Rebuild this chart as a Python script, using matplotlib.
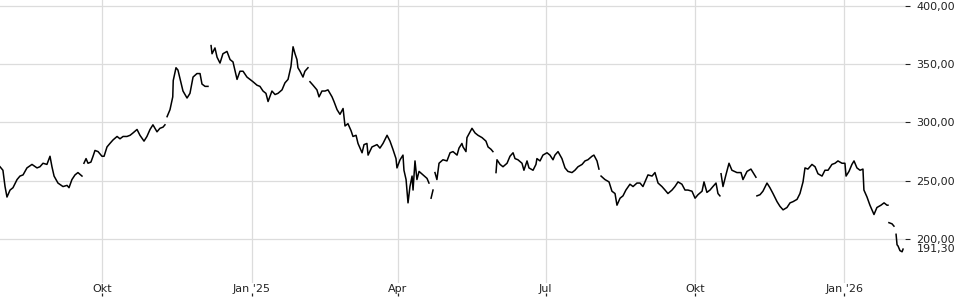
import numpy as np
import pandas as pd
import matplotlib
matplotlib.use("Agg")
import matplotlib.pyplot as plt
import matplotlib.dates as mdates
from matplotlib.ticker import FuncFormatter

nan = np.nan

# price readings, day offsets counted from the first session; nan = break in the line
start = pd.Timestamp("2024-07-30")
days = [
    0.0, 1.8, 3.1, 4.3, 6.2, 8.0, 10.5, 12.3, 14.2, 16.6, 19.7, 22.8, 24.6, 26.5, 28.9, 30.8, 32.0, 33.3, 35.7, 38.8, 41.3, 42.5, 44.3, 46.2, 48.0, 50.5,
    51.1,
    51.7, 53.0, 54.2, 56.0, 57.3, 58.5, 60.4, 62.8, 64.1, 65.9, 67.7, 69.6, 72.1, 73.9, 75.8, 78.2, 80.1, 81.9, 84.4, 86.2, 88.7, 90.5, 92.4, 94.2, 96.7, 98.5, 100.4, 101.6,
    102.2,
    102.9, 104.7, 106.4, 106.7, 108.4, 109.6, 111.5, 112.7, 115.2, 117.0, 118.9, 121.3, 123.2, 124.4, 126.3, 128.1,
    129.0,
    130.0, 130.6, 132.4, 133.7, 135.5, 137.3, 139.8, 141.7, 143.5, 146.0, 147.8, 149.7, 152.1, 154.0, 155.8, 158.3, 160.1, 162.0, 163.8, 165.1, 167.5, 169.4, 171.2, 173.7, 175.5, 177.4, 179.2, 180.5, 181.7, 182.9, 183.5, 184.8, 186.6, 187.8, 189.7,
    190.3,
    190.9, 192.8, 195.2, 196.5, 198.3, 200.2, 202.0, 204.5, 205.7, 207.6, 209.4, 211.3, 212.5, 214.3, 216.2, 217.4, 219.3, 220.5, 223.0, 224.2, 226.0, 226.7, 229.1, 232.2, 234.0, 235.9, 238.4, 240.2, 242.0, 243.9, 244.5, 246.4, 248.2, 248.8, 250.1, 251.3, 252.5, 253.8, 254.4, 255.6, 256.8, 258.1, 260.5, 263.0, 264.2,
    264.8,
    265.5, 266.7,
    267.3,
    267.9, 269.1, 270.4, 272.8, 275.3, 277.2, 279.0, 281.5, 282.7, 284.5, 285.2, 287.0, 287.6, 289.5, 290.7, 292.6, 294.4, 296.9, 299.3, 300.6, 302.4, 303.6,
    304.6,
    305.5, 306.1, 308.0, 309.8, 312.3, 314.1, 316.0, 317.2, 319.0, 321.5, 322.7, 324.6, 325.8, 328.3, 330.1, 330.7, 332.6, 334.4, 336.9, 338.7, 340.6, 341.8, 343.7, 346.1, 348.0, 349.8, 352.3, 354.1, 356.0, 358.5, 360.3, 362.1, 364.6, 365.8, 367.7, 368.9,
    369.5,
    370.2, 372.6, 375.1, 376.9, 378.8, 380.0, 381.9, 383.7, 385.5, 388.0, 389.9, 392.3, 394.2, 396.0, 397.9, 399.1, 401.6, 403.4, 405.3, 407.7, 409.6, 411.4, 413.9, 415.7, 417.6, 420.0, 421.9, 423.7, 426.2, 428.1, 429.9, 432.4, 433.6, 435.4, 437.3, 439.1, 441.0, 442.2, 443.4,
    443.8,
    444.1, 445.3, 447.1, 449.0, 450.8, 453.9, 456.4, 457.6, 460.1, 462.5, 463.8, 465.6,
    465.9,
    466.2, 468.1, 469.9, 472.4, 474.2, 476.1, 478.6, 480.4, 482.3, 484.7, 486.6, 488.4, 490.9, 492.7, 494.6, 495.8, 497.6, 500.1, 502.0, 503.8, 506.3, 508.1, 510.0, 512.4, 514.3, 516.1, 518.6, 520.4, 521.1, 522.9, 524.7, 526.0, 527.8, 529.7, 531.5, 532.1, 534.0, 535.8, 538.3, 540.1, 542.6, 544.5, 546.3, 546.9,
    547.2,
    547.5, 549.4, 550.6,
    551.2,
    551.9, 552.5, 553.1, 554.3, 555.6, 556.2,
]
prices = [
    262, 259, 245, 236, 242, 244, 251, 254, 255, 261, 264, 261, 262, 265, 264, 271, 262, 254, 248, 245, 246, 244, 251, 255, 257, 254,
    nan,
    265, 269, 265, 266, 271, 276, 275, 271, 271, 279, 282, 285, 288, 286, 288, 288, 289, 291, 294, 289, 284, 288, 294, 298, 292, 295, 296, 298,
    nan,
    305, 311, 322, 336, 347, 345, 334, 327, 321, 325, 339, 342, 342, 333, 331, 331,
    nan,
    366, 359, 364, 356, 351, 359, 361, 354, 352, 337, 344, 344, 339, 337, 335, 332, 331, 327, 325, 318, 327, 324, 325, 328, 334, 337, 348, 365, 359, 354, 347, 344, 339, 344, 347,
    nan,
    335, 332, 328, 322, 327, 327, 328, 322, 318, 311, 307, 312, 297, 299, 293, 288, 289, 282, 274, 281, 282, 272, 279, 281, 278, 282, 289, 284, 277, 269, 261, 268, 272, 259, 251, 231, 245, 254, 242, 267, 251, 258, 255, 252, 248,
    nan,
    235, 242,
    nan,
    257, 251, 265, 268, 267, 274, 275, 272, 278, 282, 279, 275, 287, 292, 295, 291, 289, 287, 284, 279, 277, 275,
    nan,
    257, 268, 264, 262, 265, 271, 274, 269, 268, 265, 259, 267, 261, 259, 264, 269, 267, 272, 274, 272, 268, 272, 275, 269, 261, 258, 257, 259, 262, 264, 267, 268, 271, 272, 267, 260,
    nan,
    254, 251, 249, 241, 239, 229, 235, 237, 242, 247, 245, 248, 248, 245, 251, 255, 254, 257, 248, 245, 242, 239, 242, 245, 249, 247, 242, 242, 241, 235, 238, 241, 249, 240, 242, 245, 248, 239, 237,
    nan,
    256, 245, 255, 265, 259, 257, 257, 251, 258, 260, 257, 253,
    nan,
    237, 238, 241, 248, 244, 239, 232, 228, 225, 227, 231, 232, 234, 239, 249, 261, 260, 264, 262, 256, 254, 259, 259, 264, 265, 267, 265, 265, 254, 258, 264, 267, 261, 259, 260, 242, 236, 229, 221, 227, 229, 231, 229, 229,
    nan,
    214, 213, 211,
    nan,
    204, 195, 194, 190, 189, 191.3,
]
last_price = 191.30

tick_dates = ["2024-10-01", "2025-01-01", "2025-04-01", "2025-07-01", "2025-10-01", "2026-01-01"]
tick_labels = ["Okt", "Jan '25", "Apr", "Jul", "Okt", "Jan '26"]
y_ticks = [200, 250, 300, 350, 400]

assert len(days) == len(prices), (len(days), len(prices))
dates = start + pd.to_timedelta(days, unit="D")

fig = plt.figure(figsize=(9.6, 3), dpi=100)
ax = fig.add_axes([0, 1 - 283 / 300, 905 / 960, 283 / 300])

ax.plot(dates, prices, color="black", lw=1.1)

ax.set_xlim(start, start + pd.Timedelta(days=557.4))
ax.set_ylim(162.2, 405.15)

txt = "#222222"
ax.yaxis.tick_right()
ax.set_yticks(y_ticks)
ax.yaxis.set_major_formatter(FuncFormatter(lambda v, _: f"{v:.2f}".replace(".", ",")))
ax.tick_params(axis="y", length=3.6, width=0.8, pad=4.7, labelsize=8, colors=txt)

tick_pos = mdates.date2num(pd.to_datetime(tick_dates))
ax.set_xticks(tick_pos)
ax.set_xticklabels(tick_labels)
ax.tick_params(axis="x", length=0, pad=0.5, labelsize=8, colors=txt)

ax.grid(True, color="#dcdcdc", lw=0.9)
ax.set_axisbelow(True)
for s in ax.spines.values():
    s.set_visible(False)

# small tick marks sit below the month labels
sec = ax.secondary_xaxis(-13 / 283)
sec.set_xticks(tick_pos)
sec.tick_params(direction="in", length=2.4, width=0.9, labelbottom=False, colors=txt)
sec.spines["bottom"].set_visible(False)

ax.annotate(f"{last_price:.2f}".replace(".", ","), xy=(1, last_price),
            xycoords=ax.get_yaxis_transform(), xytext=(8.4, 0),
            textcoords="offset points", va="center", ha="left",
            fontsize=8, color=txt, annotation_clip=False)

fig.savefig("out.png", dpi=100)
